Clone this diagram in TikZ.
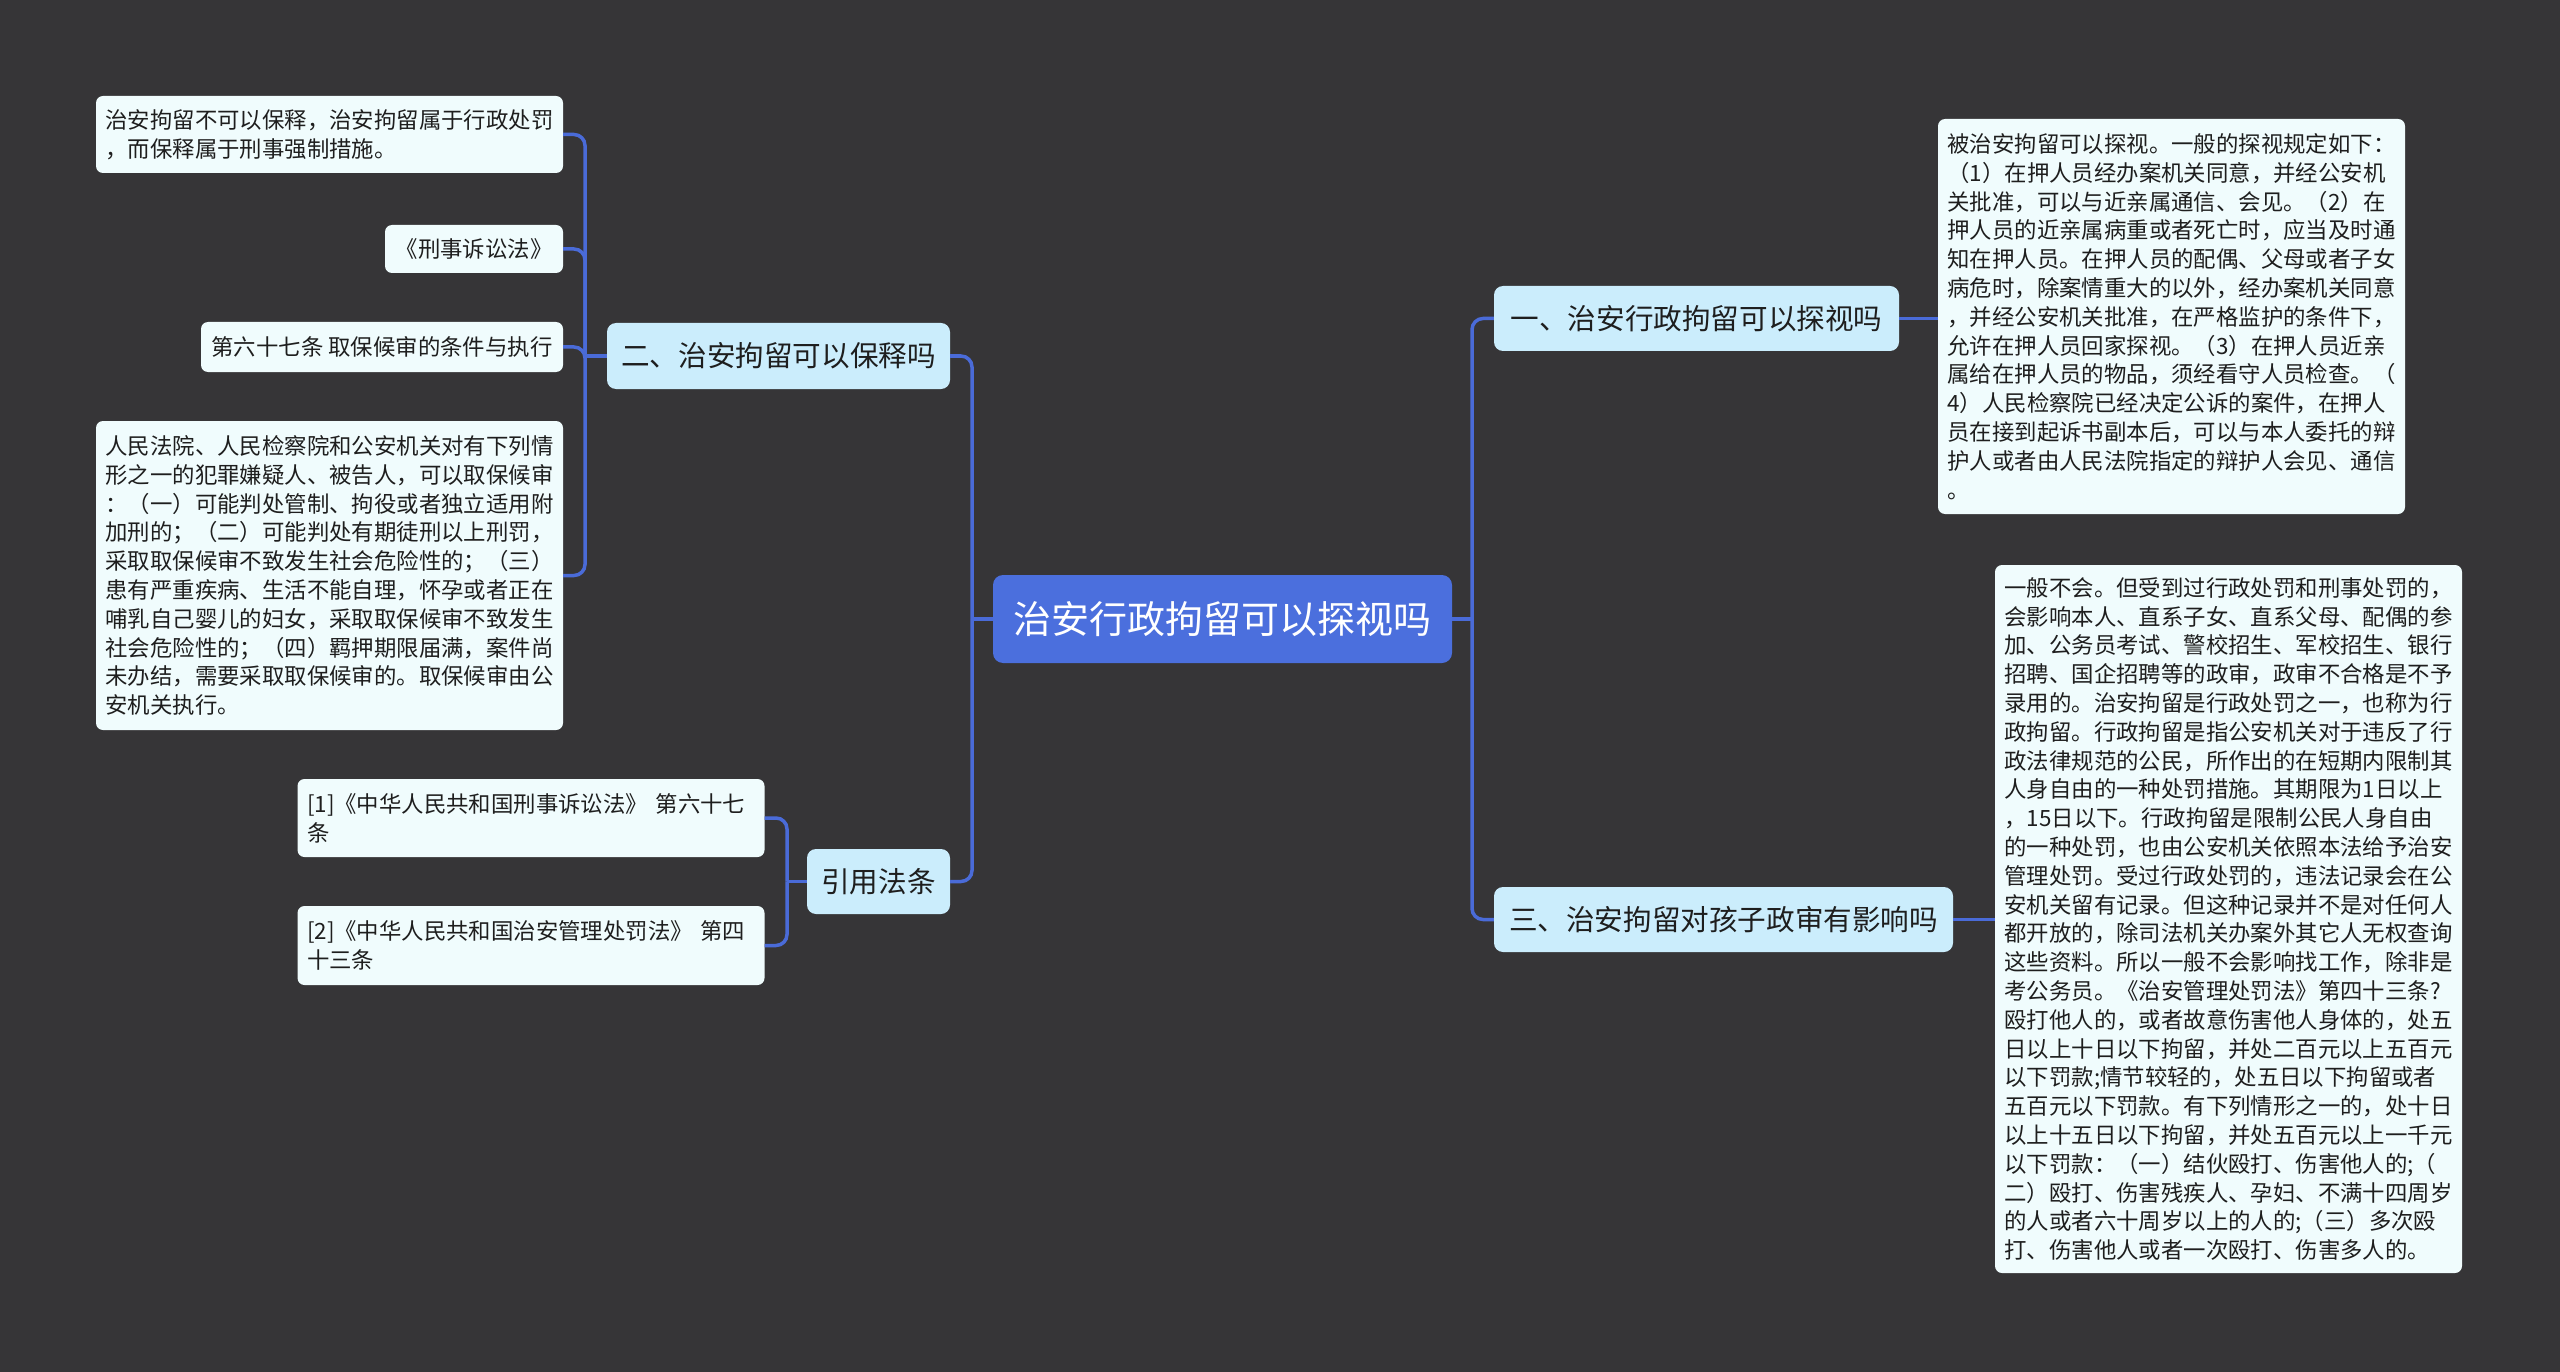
\documentclass[tikz,border=0pt]{standalone}
\usepackage{fontspec}
\setmainfont{Noto Sans CJK SC}
\definecolor{bgc}{HTML}{363537}
\definecolor{rootc}{HTML}{4B6FDD}
\definecolor{connc}{HTML}{4A6BD8}
\definecolor{lvlc}{HTML}{CBEDFC}
\definecolor{leafc}{HTML}{F0FCFD}
\definecolor{txtc}{HTML}{1E1E1E}
\begin{document}
\begin{tikzpicture}[x=1pt,y=-1pt,
  leaf/.style={fill=leafc, rounded corners=7pt, text=txtc, font=\fontsize{22.4}{28.8}\selectfont, inner xsep=9.5pt, inner ysep=8pt},
  multi/.style={leaf, text width=448pt, align=left},
  lvl/.style={fill=lvlc, rounded corners=9pt, text=txtc, font=\fontsize{28.6}{34}\selectfont, inner sep=0pt},
  rootbox/.style={fill=rootc, rounded corners=10pt, text=white, font=\fontsize{38}{44}\selectfont, inner sep=0pt},
  conn/.style={draw=connc, line width=3.5pt, rounded corners=11pt}]
\fill[bgc] (0,0) rectangle (2560,1372);
\useasboundingbox (0,0) rectangle (2560,1372);

% root
\node[rootbox, minimum width=459pt, minimum height=88pt] (root) at (1222.5,619) {治安行政拘留可以探视吗};

% level 1
\node[lvl, minimum width=343pt, minimum height=66pt] (L2) at (778.5,356) {二、治安拘留可以保释吗};
\node[lvl, minimum width=143pt, minimum height=65pt] (ref) at (878.5,881.5) {引用法条};
\node[lvl, minimum width=405pt, minimum height=65pt] (R1) at (1696.5,318.5) {一、治安行政拘留可以探视吗};
\node[lvl, minimum width=459pt, minimum height=65pt] (R3) at (1723.5,919.5) {三、治安拘留对孩子政审有影响吗};

% left leaves
\node[multi, minimum height=77pt] (la) at (329.5,134.5) {治安拘留不可以保释，治安拘留属于行政处罚\\%
，而保释属于刑事强制措施。};
\node[leaf, minimum width=178pt, minimum height=48pt] (lb) at (474,249) {《刑事诉讼法》};
\node[leaf, minimum width=362pt, minimum height=50pt, inner xsep=4pt] (lc) at (382,347) {第六十七条 取保候审的条件与执行};
\node[multi, minimum height=309pt] (ld) at (329.5,575.5) {人民法院、人民检察院和公安机关对有下列情\\%
形之一的犯罪嫌疑人、被告人，可以取保候审\\%
：（一）可能判处管制、拘役或者独立适用附\\%
加刑的；（二）可能判处有期徒刑以上刑罚，\\%
采取取保候审不致发生社会危险性的；（三）\\%
患有严重疾病、生活不能自理，怀孕或者正在\\%
哺乳自己婴儿的妇女，采取取保候审不致发生\\%
社会危险性的；（四）羁押期限届满，案件尚\\%
未办结，需要采取取保候审的。取保候审由公\\%
安机关执行。};

% references
\node[multi, minimum height=78pt] (r1) at (531,818) {[1]《中华人民共和国刑事诉讼法》 第六十七\\%
条};
\node[multi, minimum height=79pt] (r2) at (531,945.5) {[2]《中华人民共和国治安管理处罚法》 第四\\%
十三条};

% right leaves
\node[multi, minimum height=395pt] (ra) at (2171.5,316.5) {被治安拘留可以探视。一般的探视规定如下：\\%
（1）在押人员经办案机关同意，并经公安机\\%
关批准，可以与近亲属通信、会见。（2）在\\%
押人员的近亲属病重或者死亡时，应当及时通\\%
知在押人员。在押人员的配偶、父母或者子女\\%
病危时，除案情重大的以外，经办案机关同意\\%
，并经公安机关批准，在严格监护的条件下，\\%
允许在押人员回家探视。（3）在押人员近亲\\%
属给在押人员的物品，须经看守人员检查。（\\%
4）人民检察院已经决定公诉的案件，在押人\\%
员在接到起诉书副本后，可以与本人委托的辩\\%
护人或者由人民法院指定的辩护人会见、通信\\%
。};
\node[multi, minimum height=708pt] (rb) at (2228.5,919) {一般不会。但受到过行政处罚和刑事处罚的，\\%
会影响本人、直系子女、直系父母、配偶的参\\%
加、公务员考试、警校招生、军校招生、银行\\%
招聘、国企招聘等的政审，政审不合格是不予\\%
录用的。治安拘留是行政处罚之一，也称为行\\%
政拘留。行政拘留是指公安机关对于违反了行\\%
政法律规范的公民，所作出的在短期内限制其\\%
人身自由的一种处罚措施。其期限为1日以上\\%
，15日以下。行政拘留是限制公民人身自由\\%
的一种处罚，也由公安机关依照本法给予治安\\%
管理处罚。受过行政处罚的，违法记录会在公\\%
安机关留有记录。但这种记录并不是对任何人\\%
都开放的，除司法机关办案外其它人无权查询\\%
这些资料。所以一般不会影响找工作，除非是\\%
考公务员。《治安管理处罚法》第四十三条?\\%
殴打他人的，或者故意伤害他人身体的，处五\\%
日以上十日以下拘留，并处二百元以上五百元\\%
以下罚款;情节较轻的，处五日以下拘留或者\\%
五百元以下罚款。有下列情形之一的，处十日\\%
以上十五日以下拘留，并处五百元以上一千元\\%
以下罚款：（一）结伙殴打、伤害他人的;（\\%
二）殴打、伤害残疾人、孕妇、不满十四周岁\\%
的人或者六十周岁以上的人的;（三）多次殴\\%
打、伤害他人或者一次殴打、伤害多人的。};

% junctions
\coordinate (lj) at (972,619);
\coordinate (rj) at (1472,619);
\coordinate (l2j) at (585,356);
\coordinate (refj) at (787,881.5);

% connectors
\draw[conn] (root.west) -- (lj);
\draw[conn] (lj) |- (L2.east);
\draw[conn] (lj) |- (ref.east);
\draw[conn] (root.east) -- (rj);
\draw[conn] (rj) |- (R1.west);
\draw[conn] (rj) |- (R3.west);
\draw[conn] (R1.east) -- (R1.east -| ra.west);
\draw[conn] (R3.east) -- (R3.east -| rb.west);
\draw[conn] (L2.west) -- (l2j);
\draw[conn] (l2j) |- (la.east);
\draw[conn] (l2j) |- (lb.east);
\draw[conn] (l2j) |- (lc.east);
\draw[conn] (l2j) |- (ld.east);
\draw[conn] (ref.west) -- (refj);
\draw[conn] (refj) |- (r1.east);
\draw[conn] (refj) |- (r2.east);
\end{tikzpicture}
\end{document}
